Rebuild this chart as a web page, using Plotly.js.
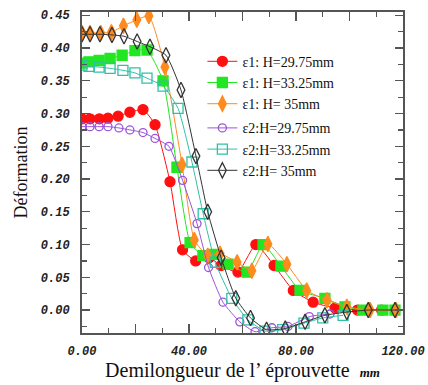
<!DOCTYPE html>
<html>
<head>
<meta charset="utf-8">
<script src="https://cdn.plot.ly/plotly-3.0.1.min.js"></script>
<style>html,body{margin:0;padding:0;background:#fff;}#chart{width:428px;height:385px;}</style>
</head>
<body>
<div id="chart"></div>
<script>
// ε1 : H = 29.75 mm
const e1_2975_x = [0, 3, 6.5, 9.7, 13.5, 17.9, 22.8, 27.3, 32.9, 37.6, 42.5, 47.5, 52, 58.3, 65, 71.8, 79, 86.4, 94.6, 103, 112];
const e1_2975_y = [0.292, 0.292, 0.292, 0.293, 0.296, 0.302, 0.306, 0.283, 0.196, 0.092, 0.075, 0.08, 0.068, 0.058, 0.1, 0.068, 0.03, 0.012, 0.003, 0, 0];
// ε1 : H = 33.25 mm
const e1_3325_x = [0, 2.6, 6.4, 10.5, 15, 19.8, 24.3, 30.3, 35.5, 40.4, 45.2, 49, 54.6, 61.7, 67.7, 74.4, 81.5, 90.8, 98.3, 105, 112.5, 117];
const e1_3325_y = [0.377, 0.379, 0.381, 0.384, 0.389, 0.396, 0.397, 0.35, 0.218, 0.103, 0.083, 0.085, 0.07, 0.058, 0.1, 0.067, 0.03, 0.018, 0.005, 0, 0, 0];
// ε1 : H = 35 mm
const e1_35_x = [0, 3, 7, 11, 15.5, 20.5, 25, 31, 37.4, 42, 47, 51.6, 58, 63.5, 69.5, 76.6, 84, 91.6, 99, 107.7, 117.4];
const e1_35_y = [0.423, 0.423, 0.423, 0.424, 0.434, 0.443, 0.449, 0.371, 0.222, 0.107, 0.083, 0.086, 0.073, 0.06, 0.101, 0.07, 0.03, 0.015, 0.005, 0, 0];
// ε2 : H = 29.75 mm
const e2_2975_x = [0, 3, 6.4, 9.7, 13.8, 17.9, 22.8, 27.3, 32.5, 37.6, 43, 47.3, 52.7, 59, 64.7, 71, 77, 85, 92.7];
const e2_2975_y = [0.28, 0.28, 0.28, 0.28, 0.278, 0.275, 0.271, 0.262, 0.25, 0.198, 0.132, 0.065, 0.012, -0.018, -0.033, -0.027, -0.025, -0.01, -0.006];
// ε2 : H = 33.25 mm
const e2_3325_x = [0, 2.6, 6.4, 10.5, 15.3, 19.8, 24.3, 30.3, 35.9, 41.1, 45.3, 49.8, 56, 62, 68.4, 75, 83, 90, 97.6];
const e2_3325_y = [0.374, 0.372, 0.371, 0.369, 0.366, 0.362, 0.354, 0.342, 0.308, 0.226, 0.147, 0.073, 0.018, -0.015, -0.032, -0.03, -0.02, -0.012, -0.008];
// ε2 : H = 35 mm
const e2_35_x = [0, 3, 6.7, 11.2, 15.7, 20.6, 25.4, 31.4, 37, 42.6, 47, 52, 57.5, 63, 69, 76, 83.4, 90.8, 99, 107, 117];
const e2_35_y = [0.421, 0.421, 0.421, 0.42, 0.418, 0.41, 0.402, 0.389, 0.336, 0.235, 0.15, 0.08, 0.018, -0.012, -0.03, -0.028, -0.018, -0.008, -0.003, 0, 0];

const seriesNames = ['ε1: H=29.75mm', 'ε1: H=33.25mm', 'ε1: H= 35mm', 'ε2:H=29.75mm', 'ε2:H=33.25mm', 'ε2:H= 35mm'];
const xTickVals = [0, 20, 40, 60, 80, 100, 120];
const xTickText = ['0.00', '', '40.00', '', '80.00', '', '120.00'];

function tr(x, y, name, color, symbol, size, group, lw) {
  return {
    x: x, y: y, name: name, type: 'scatter', mode: 'lines+markers',
    legendgroup: group,
    line: {color: color, width: lw || 1, shape: 'spline', smoothing: 0.5},
    marker: {color: color, symbol: symbol, size: size, line: {color: color, width: 1.3}},
    cliponaxis: true
  };
}

const data = [
  tr(e1_2975_x, e1_2975_y, seriesNames[0], '#ff1010', 'circle', 10, 'g1'),
  tr(e1_3325_x, e1_3325_y, seriesNames[1], '#22e622', 'square', 10, 'g1'),
  tr(e1_35_x, e1_35_y, seriesNames[2], '#ff8a1e', 'diamond-tall', 11, 'g1'),
  tr(e2_2975_x, e2_2975_y, seriesNames[3], '#9a55d8', 'circle-open', 8, 'g2'),
  tr(e2_3325_x, e2_3325_y, seriesNames[4], '#30c0a8', 'square-open', 10, 'g2'),
  tr(e2_35_x, e2_35_y, seriesNames[5], '#333333', 'diamond-tall-open', 11, 'g2')
];

const tickFont = {family: '"Liberation Mono", "DejaVu Sans Mono", monospace', size: 12, weight: 'bold', style: 'italic', color: '#222'};
const serif = '"Liberation Serif", "Times New Roman", serif';

const layout = {
  width: 428, height: 385,
  margin: {l: 82, r: 25, t: 12, b: 52},
  paper_bgcolor: '#fff', plot_bgcolor: '#fff',
  showlegend: true,
  legend: {
    x: 0.375, y: 0.895, xanchor: 'left', yanchor: 'top',
    bgcolor: 'rgba(255,255,255,0)',
    font: {family: serif, size: 14, color: '#111'},
    tracegroupgap: 3, itemwidth: 30
  },
  xaxis: {
    range: [0, 120], tickvals: xTickVals, ticktext: xTickText,
    ticks: 'inside', ticklen: 9, tickwidth: 1.3, tickcolor: '#555',
    minor: {dtick: 10, ticks: 'inside', ticklen: 5, tickcolor: '#555', tickwidth: 1.2},
    showgrid: false, zeroline: false,
    showline: true, linecolor: '#555', linewidth: 2, mirror: 'ticks',
    tickfont: tickFont, ticklabelstandoff: 6,
    title: {text: 'Demilongueur de l\u2019 éprouvette  <b><i><span style="font-size:13px">mm</span></i></b>',
            font: {family: serif, size: 20, color: '#111'}, standoff: 5}
  },
  yaxis: {
    range: [-0.035, 0.455], dtick: 0.05, tick0: 0, tickformat: '.2f',
    ticks: 'inside', ticklen: 8, tickwidth: 1.3, tickcolor: '#555',
    minor: {dtick: 0.025, ticks: 'inside', ticklen: 5, tickcolor: '#555', tickwidth: 1.2},
    showgrid: false, zeroline: false,
    showline: true, linecolor: '#555', linewidth: 2, mirror: 'ticks',
    tickfont: tickFont, ticklabelstandoff: 8,
    title: {text: 'Déformation', font: {family: serif, size: 18, color: '#111'}, standoff: 8}
  }
};

Plotly.newPlot('chart', data, layout, {displayModeBar: false, staticPlot: true});
</script>
</body>
</html>
